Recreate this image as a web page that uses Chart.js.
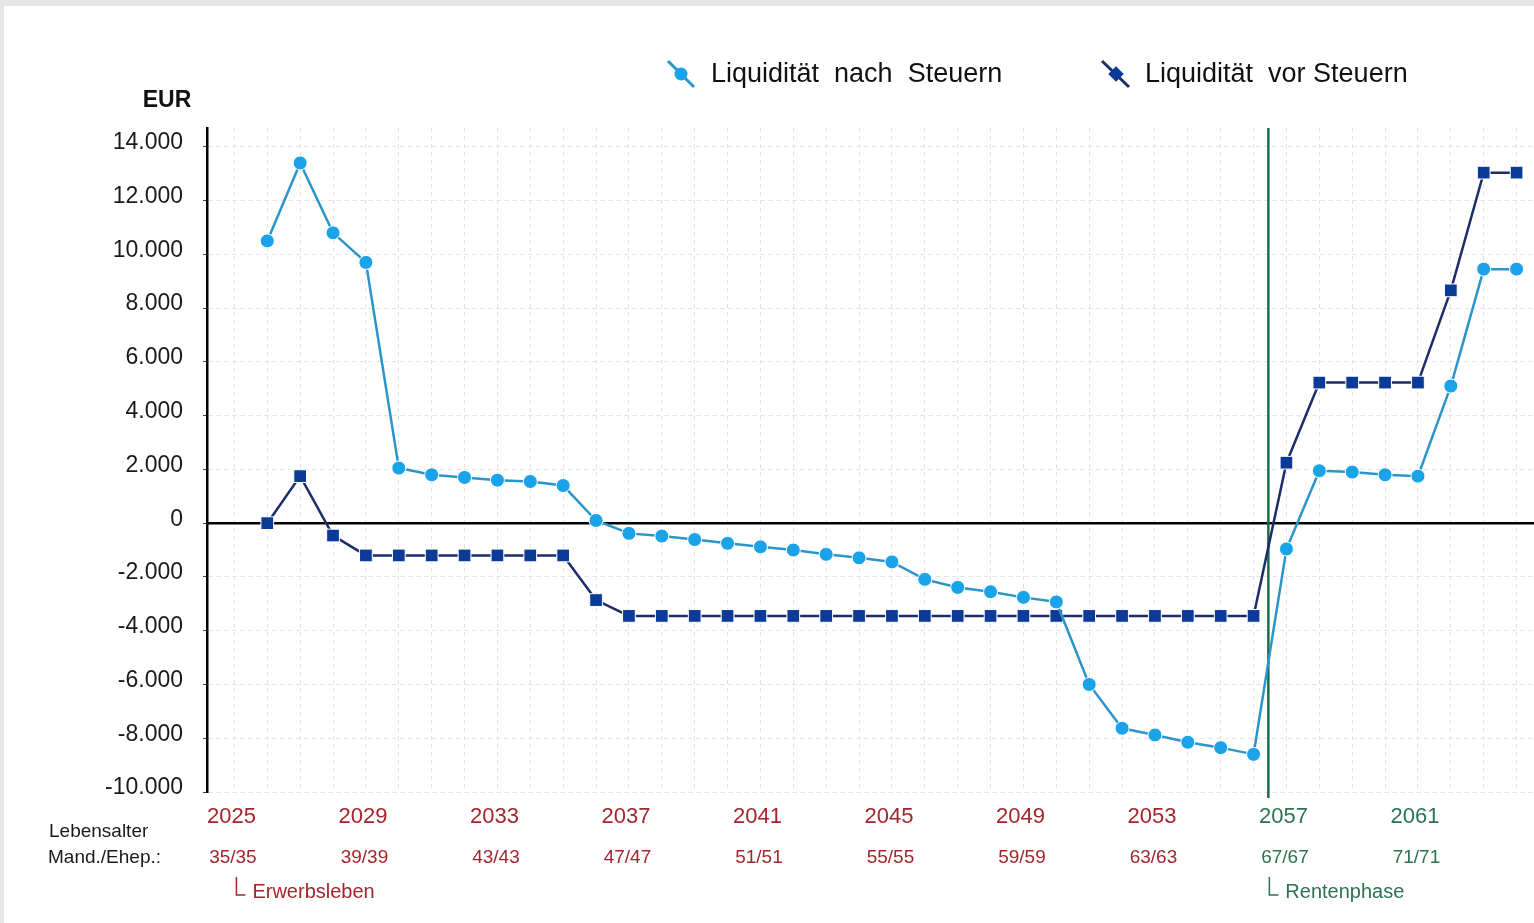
<!DOCTYPE html>
<html lang="de">
<head>
<meta charset="utf-8">
<title>Liquidität vor und nach Steuern</title>
<script src="https://cdn.jsdelivr.net/npm/chart.js@4.4.1/dist/chart.umd.min.js"></script>
<style>
  html, body { margin: 0; padding: 0; width: 1534px; height: 923px; overflow: hidden; background: #e6e6e6; }
  #panel { position: absolute; left: 4px; top: 6px; right: 0; bottom: 0; background: #ffffff; }
  #chart { position: absolute; left: 0; top: 0; }
</style>
</head>
<body>
<div id="panel"></div>
<canvas id="chart" width="1534" height="923"></canvas>
<script>
// Jahre mit Werten
const years = [2026, 2027, 2028, 2029, 2030, 2031, 2032, 2033, 2034, 2035,
               2036, 2037, 2038, 2039, 2040, 2041, 2042, 2043, 2044, 2045,
               2046, 2047, 2048, 2049, 2050, 2051, 2052, 2053, 2054, 2055,
               2056, 2057, 2058, 2059, 2060, 2061, 2062, 2063, 2064];

// Liquidität nach Steuern (EUR)
const afterTax = [10500, 13400, 10800, 9700, 2050, 1800, 1700, 1600, 1550, 1400,
                  100, -380, -480, -610, -750, -880, -1000, -1160, -1290, -1440,
                  -2090, -2390, -2550, -2760, -2930, -6000, -7630, -7880, -8150, -8350,
                  -8600, -960, 1950, 1900, 1800, 1750, 5100, 9450, 9450];

// Liquidität vor Steuern (EUR)
const beforeTax = [0, 1750, -460, -1200, -1200, -1200, -1200, -1200, -1200, -1200,
                   -2860, -3450, -3450, -3450, -3450, -3450, -3450, -3450, -3450, -3450,
                   -3450, -3450, -3450, -3450, -3450, -3450, -3450, -3450, -3450, -3450,
                   -3450, 2250, 5230, 5230, 5230, 5230, 8660, 13040, 13040];

// Achsenbeschriftung
const gridYears = [2025, 2026, 2027, 2028, 2029, 2030, 2031, 2032, 2033, 2034,
                   2035, 2036, 2037, 2038, 2039, 2040, 2041, 2042, 2043, 2044,
                   2045, 2046, 2047, 2048, 2049, 2050, 2051, 2052, 2053, 2054,
                   2055, 2056, 2057, 2058, 2059, 2060, 2061, 2062, 2063, 2064];
const labelYears = [2025, 2029, 2033, 2037, 2041, 2045, 2049, 2053, 2057, 2061];
const ageLabels = ['35/35', '39/39', '43/43', '47/47', '51/51', '55/55', '59/59', '63/63', '67/67', '71/71'];
const yTicks = [-10000, -8000, -6000, -4000, -2000, 0, 2000, 4000, 6000, 8000, 10000, 12000, 14000];

// Beginn der Rentenphase (Jahresachse)
const retirementStart = 2056.45;
const workStart = 2025;

const RED = '#a3262d';
const GREEN = '#2c7350';
const LIGHT_LINE = '#2a95c9';
const LIGHT_POINT = '#1aa3e8';
const DARK_LINE = '#1c2d6a';
const DARK_POINT = '#0c3a98';
const GRID = '#e2e2e2';
const FONT = "'Liberation Sans', Arial, Helvetica, sans-serif";

const X_MIN = 2024.166;
const X_MAX = 2064.53;

const fmtEUR = v => {
  const s = Math.abs(v).toString().replace(/\B(?=(\d{3})+(?!\d))/g, '.');
  return (v < 0 ? '-' : '') + s;
};

Chart.defaults.font.family = FONT;

// Nulllinie und Grenze zur Rentenphase unter den Datenreihen
const guideLines = {
  id: 'guideLines',
  beforeDatasetsDraw(chart) {
    const { ctx, chartArea, scales } = chart;
    const y0 = scales.y.getPixelForValue(0);
    ctx.save();
    ctx.strokeStyle = '#000000';
    ctx.lineWidth = 2.5;
    ctx.beginPath();
    ctx.moveTo(chartArea.left, y0);
    ctx.lineTo(chartArea.right, y0);
    ctx.stroke();

    const xr = scales.x.getPixelForValue(retirementStart);
    ctx.strokeStyle = '#1f6b48';
    ctx.lineWidth = 2.5;
    ctx.beginPath();
    ctx.moveTo(xr, chartArea.top);
    ctx.lineTo(xr, chartArea.bottom + 6);
    ctx.stroke();
    ctx.restore();
  }
};

// Legende, Einheit und Beschriftungen unterhalb der Achse
const annotations = {
  id: 'annotations',
  afterDraw(chart) {
    const { ctx, scales } = chart;
    ctx.save();

    // Legende
    ctx.lineCap = 'butt';
    ctx.strokeStyle = LIGHT_LINE;
    ctx.lineWidth = 3;
    ctx.beginPath();
    ctx.moveTo(668, 61);
    ctx.lineTo(694, 87);
    ctx.stroke();
    ctx.fillStyle = LIGHT_POINT;
    ctx.beginPath();
    ctx.arc(681, 74, 6.5, 0, Math.PI * 2);
    ctx.fill();

    ctx.strokeStyle = DARK_LINE;
    ctx.beginPath();
    ctx.moveTo(1102, 61);
    ctx.lineTo(1129, 87);
    ctx.stroke();
    ctx.save();
    ctx.translate(1116, 74);
    ctx.rotate(Math.PI / 4);
    ctx.fillStyle = DARK_POINT;
    ctx.fillRect(-5.5, -5.5, 11, 11);
    ctx.restore();

    ctx.fillStyle = '#111111';
    ctx.font = '27px ' + FONT;
    ctx.textAlign = 'left';
    ctx.textBaseline = 'middle';
    ctx.fillText(chart.data.datasets[0].label, 711, 75);
    ctx.fillText(chart.data.datasets[1].label, 1145, 75);

    // Einheit
    ctx.font = 'bold 23px ' + FONT;
    ctx.textAlign = 'center';
    ctx.textBaseline = 'alphabetic';
    ctx.fillStyle = '#111111';
    ctx.fillText('EUR', 167, 107);

    // Zeilenköpfe
    ctx.font = '19px ' + FONT;
    ctx.textAlign = 'left';
    ctx.fillStyle = '#1a1a1a';
    ctx.fillText('Lebensalter', 49, 837);
    ctx.fillText('Mand./Ehep.:', 48, 863);

    // Phasen
    const drawPhase = (xPix, text, color) => {
      ctx.strokeStyle = color;
      ctx.lineWidth = 1.5;
      ctx.beginPath();
      ctx.moveTo(xPix, 877);
      ctx.lineTo(xPix, 895);
      ctx.lineTo(xPix + 9, 895);
      ctx.stroke();
      ctx.fillStyle = color;
      ctx.font = '20px ' + FONT;
      ctx.textAlign = 'left';
      ctx.textBaseline = 'alphabetic';
      ctx.fillText(text, xPix + 16, 898);
    };
    drawPhase(scales.x.getPixelForValue(workStart) + 2, 'Erwerbsleben', RED);
    drawPhase(scales.x.getPixelForValue(retirementStart) + 1, 'Rentenphase', GREEN);

    ctx.restore();
  }
};

const tickColor = c => (c.tick && c.tick.value >= 2057 ? GREEN : RED);
const noSidePadding = s => { s.paddingLeft = 0; s.paddingRight = 0; };

new Chart(document.getElementById('chart'), {
  type: 'line',
  data: {
    datasets: [
      {
        label: 'Liquidität  nach  Steuern',
        data: years.map((yr, i) => ({ x: yr, y: afterTax[i] })),
        borderColor: LIGHT_LINE,
        borderWidth: 2.5,
        tension: 0,
        pointStyle: 'circle',
        pointRadius: 7,
        pointBackgroundColor: LIGHT_POINT,
        pointBorderColor: '#ffffff',
        pointBorderWidth: 1
      },
      {
        label: 'Liquidität  vor Steuern',
        data: years.map((yr, i) => ({ x: yr, y: beforeTax[i] })),
        borderColor: DARK_LINE,
        borderWidth: 2.5,
        tension: 0,
        pointStyle: 'rect',
        pointRadius: 9,
        pointBackgroundColor: DARK_POINT,
        pointBorderColor: '#ffffff',
        pointBorderWidth: 1
      }
    ]
  },
  options: {
    responsive: false,
    animation: false,
    devicePixelRatio: 1,
    layout: { autoPadding: false, padding: { top: 128, left: 0, right: 0, bottom: 0 } },
    plugins: {
      legend: { display: false },
      tooltip: { enabled: false }
    },
    scales: {
      x: {
        type: 'linear',
        position: 'bottom',
        weight: 0,
        min: X_MIN,
        max: X_MAX,
        afterBuildTicks: s => { s.ticks = gridYears.map(v => ({ value: v })); },
        afterFit: s => { s.height = 50; noSidePadding(s); },
        grid: { color: GRID, lineWidth: 1, drawTicks: false },
        border: { display: false, dash: c => (c.type === 'tick' ? [4, 4] : []) },
        ticks: {
          autoSkip: false,
          maxRotation: 0,
          minRotation: 0,
          padding: 12,
          labelOffset: -3,
          font: { size: 22 },
          color: tickColor,
          callback: v => (labelYears.includes(v) ? String(v) : '')
        }
      },
      age: {
        type: 'linear',
        axis: 'x',
        position: 'bottom',
        weight: 1,
        min: X_MIN,
        max: X_MAX,
        afterBuildTicks: s => { s.ticks = gridYears.map(v => ({ value: v })); },
        afterFit: s => { s.height = 81; noSidePadding(s); },
        grid: { display: false, drawTicks: false },
        border: { display: false },
        ticks: {
          autoSkip: false,
          maxRotation: 0,
          minRotation: 0,
          padding: 4,
          labelOffset: -1.5,
          font: { size: 19 },
          color: tickColor,
          callback: v => {
            const i = labelYears.indexOf(v);
            return i < 0 ? '' : ageLabels[i];
          }
        }
      },
      y: {
        type: 'linear',
        min: -10000,
        max: 14700,
        afterBuildTicks: s => { s.ticks = yTicks.map(v => ({ value: v })); },
        afterFit: s => { s.width = 207; },
        grid: {
          color: c => (c.tick && c.tick.value === 0 ? 'rgba(0,0,0,0)' : GRID),
          lineWidth: 1,
          drawTicks: true,
          tickLength: 4,
          tickColor: '#444444'
        },
        border: { display: true, color: '#000000', width: 2.5, dash: c => (c.type === 'tick' ? [4, 4] : []) },
        ticks: {
          padding: 20,
          labelOffset: -4,
          font: { size: 23 },
          color: '#1a1a1a',
          callback: v => fmtEUR(v)
        }
      }
    }
  },
  plugins: [guideLines, annotations]
});
</script>
</body>
</html>
